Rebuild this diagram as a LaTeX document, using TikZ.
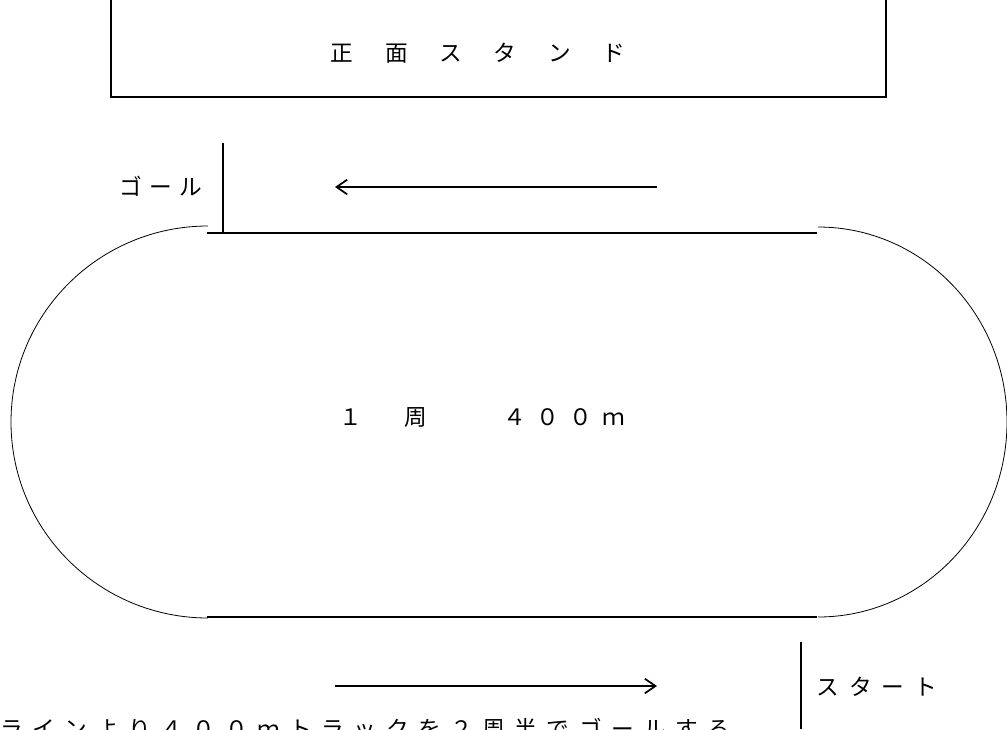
\documentclass[tikz,border=0pt]{standalone}
\usepackage{fontspec}
\newfontfamily\jpfont{Noto Sans CJK JP}
\usetikzlibrary{arrows.meta}
\tikzset{
  jptext/.style={font=\jpfont\fontsize{17pt}{19pt}\selectfont\addfontfeature{LetterSpace=#1}, inner sep=0pt},
  jptext/.default=45,
  track/.style={line width=0.6pt},
  line/.style={line width=1.1pt},
  run/.style={line width=1.3pt, -{Straight Barb[length=8pt,width=11pt]}}
}
\begin{document}
\begin{tikzpicture}[x=0.75pt, y=0.75pt]
\useasboundingbox (0,0) rectangle (1007,-729);
\draw[line] (111,0) -- (111,-97) -- (886,-97) -- (886,0);
\node[jptext=20] (stand) at (478,-53) {正　面　ス　タ　ン　ド};
\draw[line] (207,-233) -- (817,-233);
\draw[line] (207,-617) -- (817,-617);
\draw[track] (208,-226) arc[start angle=90, end angle=270, x radius=197, y radius=196];
\draw[track] (818,-227) arc[start angle=90, end angle=-90, x radius=189, y radius=195];
\draw[line] (223,-143) -- (223,-233);
\node[jptext=32, anchor=east] (goal) at (202,-186) {ゴール};
\coordinate (goalfrom) at (657,-187);
\coordinate (goalto) at (335,-187);
\draw[run] (goalfrom) -- (goalto);
\node[jptext] (lap) at (482,-417) {１　周　　４００ｍ};
\draw[line] (801,-642) -- (801,-729);
\node[jptext, anchor=west] (start) at (816,-687) {スタート};
\coordinate (startfrom) at (335,-686);
\coordinate (startto) at (657,-686);
\draw[run] (startfrom) -- (startto);
\node[jptext=42, anchor=west] (rule) at (0,-729) {ラインより４００ｍトラックを２周半でゴールする};
\end{tikzpicture}
\end{document}
